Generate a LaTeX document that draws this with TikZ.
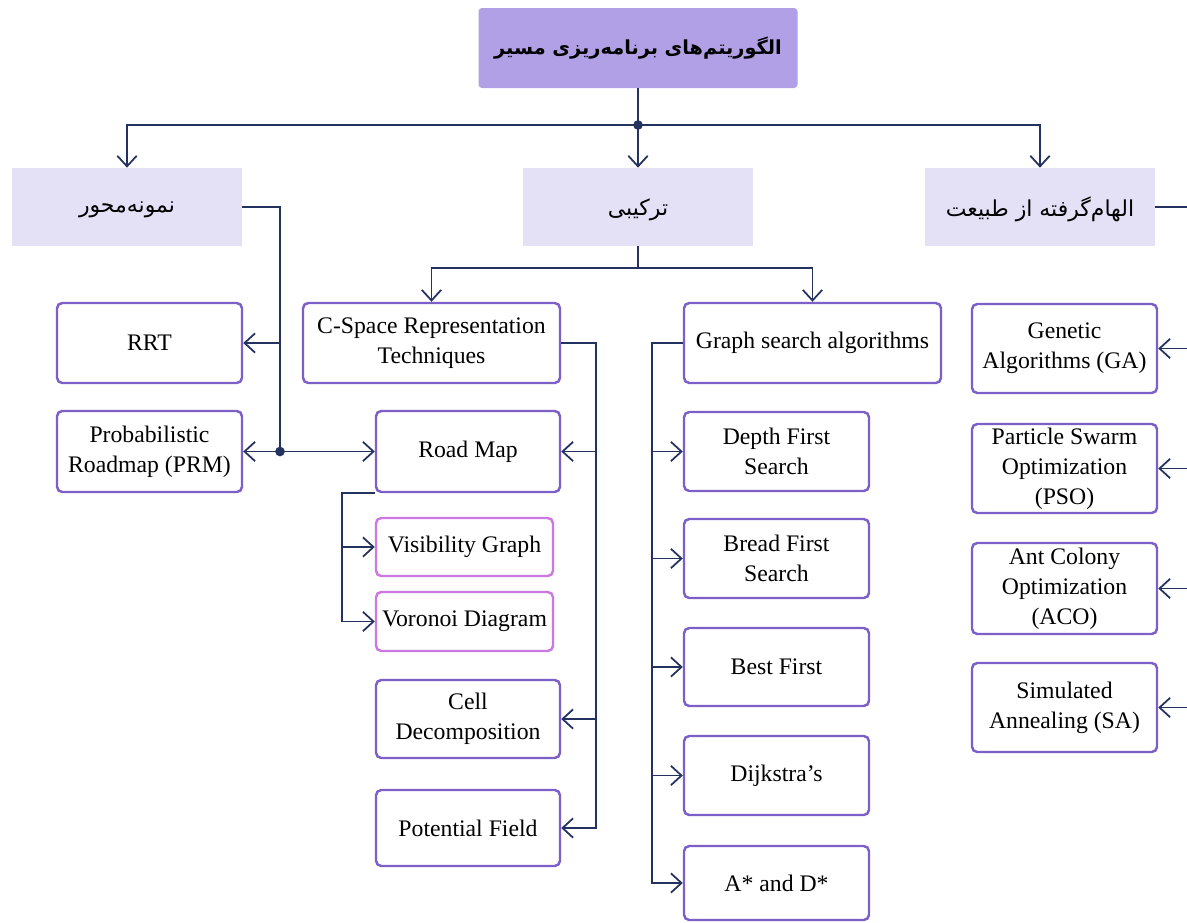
\documentclass[tikz,border=0pt]{standalone}
\usepackage{fontspec}
\setmainfont{Liberation Serif}
\newfontfamily\arabicfont[Script=Arabic]{DejaVu Sans}
\TeXXeTstate=1
\usetikzlibrary{arrows.meta,calc}
\definecolor{navy}{RGB}{35,50,95}
\definecolor{boxpurple}{RGB}{125,95,200}
\definecolor{pinkb}{RGB}{205,120,225}
\definecolor{titlefill}{RGB}{178,160,230}
\definecolor{catfill}{RGB}{228,224,245}
\begin{document}
\begin{tikzpicture}[x=0.02cm,y=-0.02cm,
 sz/.style 2 args={minimum width=#1*0.02cm, minimum height=#2*0.02cm},
 algbox/.style={draw=boxpurple, line width=1.4pt, rounded corners=3pt, fill=white, inner sep=2pt, align=center, font=\fontsize{13.5}{17}\selectfont},
 subbox/.style={algbox, draw=pinkb},
 catbox/.style={fill=catfill, inner sep=0pt, text depth=0pt, font=\arabicfont\fontsize{12.5}{15}\selectfont},
 titlebox/.style={fill=titlefill, rounded corners=2pt, inner sep=0pt, font=\arabicfont\bfseries\fontsize{11}{14}\selectfont},
 conn/.style={draw=navy, line width=1pt},
 arr/.style={conn, -{Straight Barb[length=6pt,width=11pt]}},
 jdot/.style={circle, fill=navy, inner sep=0pt, minimum size=5.5pt}
]
\useasboundingbox (0,0) rectangle (1187,923);
\fill[white] (0,0) rectangle (1187,923);

% title and categories
\node[titlebox, sz={319}{80}] (title) at (638,48) {\beginR الگوریتم‌های برنامه‌ریزی مسیر\endR};
\node[catbox, sz={230}{78}] (cat1) at (127,207) {\beginR نمونه‌محور\endR};
\node[catbox, sz={230}{78}] (cat2) at (638,207) {\beginR ترکیبی\endR};
\node[catbox, sz={230}{78}] (cat3) at (1040,207) {\beginR الهام‌گرفته از طبیعت\endR};

% sample based
\node[algbox, sz={185}{80}] (rrt) at (149.5,343) {RRT};
\node[algbox, sz={185}{81}] (prm) at (149.5,451.5) {Probabilistic\\Roadmap (PRM)};

% combined
\node[algbox, sz={257}{80}] (cspace) at (431.5,343) {C-Space Representation\\Techniques};
\node[algbox, sz={257}{80}] (graph) at (812.5,343) {Graph search algorithms};
\node[algbox, sz={184}{81}] (road) at (468,451.5) {Road Map};
\node[subbox, sz={177}{58}] (vis) at (464.5,547) {Visibility Graph};
\node[subbox, sz={177}{59}] (vor) at (464.5,621.5) {Voronoi Diagram};
\node[algbox, sz={184}{78}] (cell) at (468,719) {Cell\\Decomposition};
\node[algbox, sz={184}{76}] (pot) at (468,828) {Potential Field};

\node[algbox, sz={185}{79}] (dfs) at (776.5,451.5) {Depth First\\Search};
\node[algbox, sz={185}{79}] (bfs) at (776.5,558.5) {Bread First\\Search};
\node[algbox, sz={185}{78}] (best) at (776.5,667) {Best First};
\node[algbox, sz={185}{79}] (dij) at (776.5,775.5) {Dijkstra’s};
\node[algbox, sz={185}{74}] (astar) at (776.5,883) {A* and D*};

% nature inspired
\node[algbox, sz={185}{89}] (ga) at (1064.5,348.5) {Genetic\\Algorithms (GA)};
\node[algbox, sz={185}{89}] (pso) at (1064.5,468.5) {Particle Swarm\\Optimization\\(PSO)};
\node[algbox, sz={185}{91}] (aco) at (1064.5,588.5) {Ant Colony\\Optimization\\(ACO)};
\node[algbox, sz={185}{89}] (sa) at (1064.5,707.5) {Simulated\\Annealing (SA)};

% connectors: top
\coordinate (j) at (638,125);
\draw[conn] (title.south) -- (j);
\draw[arr] (j) -| (cat1.north);
\draw[arr] (j) -- (cat2.north);
\draw[arr] (j) -| (cat3.north);
\node[jdot] at (j) {};

% sample based
\coordinate (sj) at (280,451.5);
\draw[conn] (cat1.east) -| (sj);
\draw[arr] (sj |- rrt.east) -- (rrt.east);
\draw[arr] (sj) -- (prm.east);
\draw[arr] (sj) -- (road.west);
\node[jdot] at (sj) {};

% combined
\coordinate (cj) at (638,268);
\draw[conn] (cat2.south) -- (cj);
\draw[arr] (cj) -| (cspace.north);
\draw[arr] (cj) -| (graph.north);

\coordinate (cs) at (596,828);
\draw[arr] (cspace.east) -| (cs) -- (pot.east);
\draw[arr] (cs |- road.east) -- (road.east);
\draw[arr] (cs |- cell.east) -- (cell.east);

\coordinate (rv) at (342,621.5);
\draw[arr] (road.south west) -| (rv) -- (vor.west);
\draw[arr] (rv |- vis.west) -- (vis.west);

\coordinate (gs) at (652,883);
\draw[arr] (graph.west) -| (gs) -- (astar.west);
\draw[arr] (gs |- dfs.west) -- (dfs.west);
\draw[arr] (gs |- bfs.west) -- (bfs.west);
\draw[arr] (gs |- best.west) -- (best.west);
\draw[arr] (gs |- dij.west) -- (dij.west);

% nature
\coordinate (ns) at (1195,707.5);
\draw[arr] (cat3.east) -| (ns) -- (sa.east);
\draw[arr] (ns |- ga.east) -- (ga.east);
\draw[arr] (ns |- pso.east) -- (pso.east);
\draw[arr] (ns |- aco.east) -- (aco.east);
\end{tikzpicture}
\end{document}
